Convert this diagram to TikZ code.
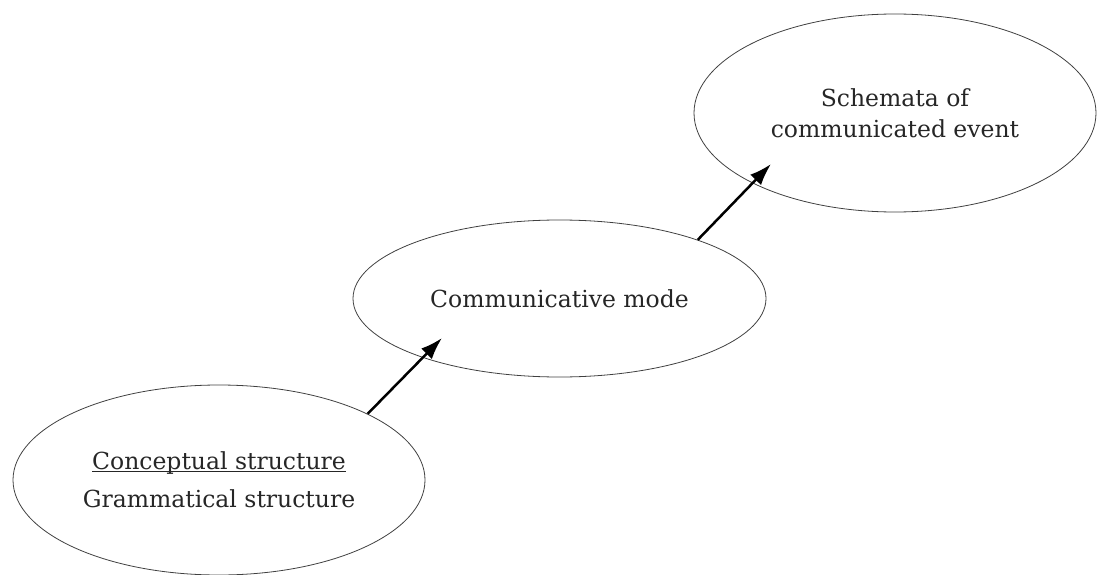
\documentclass[tikz,border=0pt]{standalone}
\usepackage{fontspec}
\setmainfont{DejaVu Serif}
\usetikzlibrary{shapes.geometric,arrows.meta}
\newcommand\mylinedtext[1]{\setbox0\hbox{#1}\rlap{\rule[-2.5pt]{\wd0}{0.9pt}}\box0}
\begin{document}
\begin{tikzpicture}[x=1pt,y=1pt,
  oval/.style={ellipse,draw=black!75,line width=0.8pt,inner sep=0pt,align=center,
    text=black!85,font=\fontsize{23.5}{30}\selectfont},
  flow/.style={line width=2.5pt,-{Latex[length=22pt,width=15pt]}}]
\useasboundingbox (0,0) rectangle (1097,574);
\node[oval,minimum width=412pt,minimum height=190pt] (e1) at (219,94)
  {\mylinedtext{Conceptual structure}\\[8pt]Grammatical structure};
\node[oval,minimum width=413pt,minimum height=157pt] (e2) at (559.5,275.5)
  {Communicative mode};
\node[oval,minimum width=402pt,minimum height=198pt] (e3) at (895,461)
  {Schemata of\\[1pt]communicated event};
\coordinate (t1) at (442,236);
\coordinate (t2) at (771,410);
\draw[flow] (e1.24) -- (t1);
\draw[flow] (e2.23) -- (t2);
\end{tikzpicture}
\end{document}
